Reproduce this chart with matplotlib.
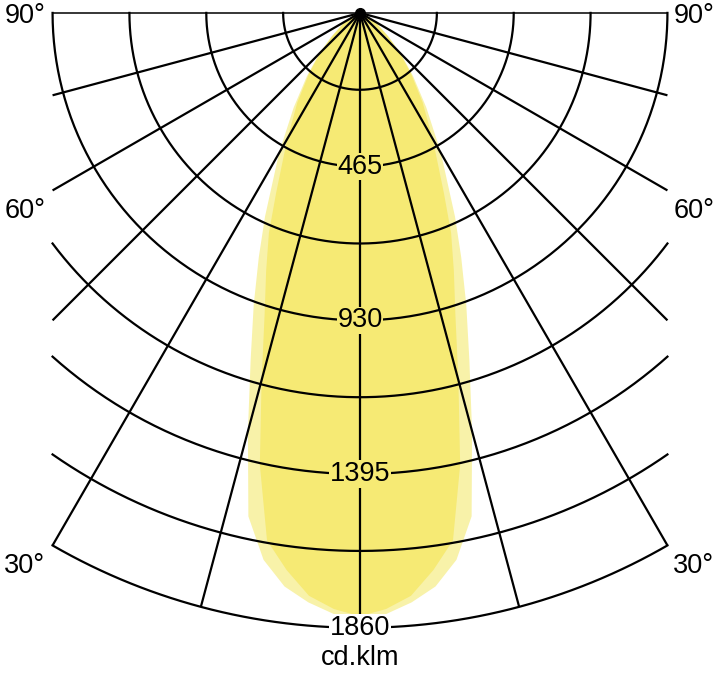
import numpy as np
import matplotlib
matplotlib.use("Agg")
from matplotlib import pyplot as plt

plt.rcParams['font.family'] = ['Liberation Sans', 'DejaVu Sans']

# light distribution, angle from nadir (deg) and intensity (cd/klm)
angles = [-90, -80, -70, -60, -50, -45, -40, -35, -30, -25, -22.5, -20, -17.5, -15,
          -12.5, -10, -7.5, -5, -2.5, 0, 2.5, 5, 7.5, 10, 12.5, 15, 17.5, 20,
          22.5, 25, 30, 35, 40, 45, 50, 60, 70, 80, 90]
outer_cd = [0, 5, 20, 55, 115, 175, 250, 350, 490, 680, 800, 940, 1100, 1310,
            1560, 1680, 1750, 1790, 1820, 1830, 1820, 1790, 1750, 1680, 1560, 1310, 1100, 940,
            800, 680, 490, 350, 250, 175, 115, 55, 20, 5, 0]
inner_cd = [0, 5, 20, 50, 110, 170, 240, 330, 440, 600, 720, 830, 960, 1150,
            1400, 1620, 1700, 1770, 1805, 1825, 1805, 1770, 1700, 1620, 1400, 1150, 960, 830,
            720, 600, 440, 330, 240, 170, 110, 50, 20, 5, 0]

ring_step = 232.5
ring_max = 1860
ring_labels = [465, 930, 1395, 1860]
spoke_angles = [-90, -75, -60, -45, -30, -15, 0, 15, 30, 45, 60, 75, 90]
side_labels = ['90°', '60°', '30°']
side_label_y = [-8, -600, -1672]

light_yellow = '#f8f2a9'
dark_yellow = '#f6ea74'


def to_xy(theta_deg, r):
    t = np.radians(theta_deg)
    return np.asarray(r) * np.sin(t), -np.asarray(r) * np.cos(t)


fig = plt.figure(figsize=(7.2, 6.86), dpi=100)
ax = fig.add_axes([0, 0, 1, 1])
ax.set_xlim(-1089, 1089)
ax.set_ylim(-2036, 39)
ax.set_aspect('equal')
ax.axis('off')

# beam shapes
x, y = to_xy(np.array(angles), outer_cd)
ax.fill(x, y, color=light_yellow, lw=0, zorder=1)
x, y = to_xy(np.array(angles), inner_cd)
ax.fill(x, y, color=dark_yellow, lw=0, zorder=1.5)

half_width = ring_max * np.sin(np.radians(30))

# rings, clipped to the vertical borders
for k in range(1, 9):
    r = ring_step * k
    tmax = 90 if r <= half_width else np.degrees(np.arcsin(half_width / r))
    t = np.linspace(-tmax, tmax, 300)
    ax.plot(*to_xy(t, r), color='black', lw=1.6, zorder=2)

# spokes
for a in spoke_angles:
    if a == 0:
        length = ring_max
    else:
        length = min(ring_max, half_width / abs(np.sin(np.radians(a))))
    xs, ys = to_xy(np.array([a, a]), [0, length])
    lw = 1.1 if abs(a) == 90 else 1.6
    ax.plot(xs, ys, color='black', lw=lw, zorder=2, solid_capstyle='butt')
ax.plot(0, 0, 'o', ms=7, color='black', zorder=2)

# intensity labels on the axis
for v in ring_labels:
    bg = 'white' if v == ring_max else dark_yellow
    ax.text(0, -v, str(v), ha='center', va='center', fontsize=19.5, zorder=3,
            bbox=dict(facecolor=bg, edgecolor='none', pad=0.5))

for lab, yy in zip(side_labels, side_label_y):
    ax.text(-952, yy, lab, ha='right', va='center', fontsize=19.5)
    ax.text(948, yy, lab, ha='left', va='center', fontsize=19.5)

ax.text(0, -1950, 'cd.klm', ha='center', va='center', fontsize=19.5)

plt.savefig('out.png', dpi=100)
